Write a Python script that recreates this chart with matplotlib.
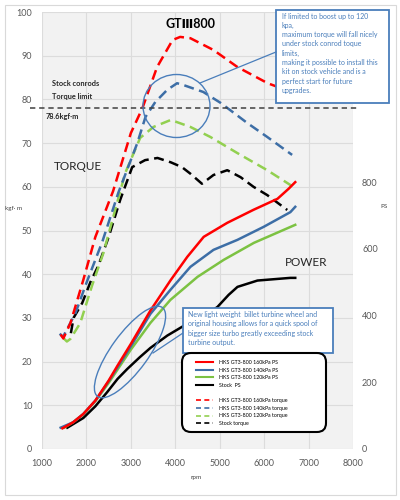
import matplotlib
matplotlib.use('Agg')
import matplotlib.pyplot as plt
from matplotlib.lines import Line2D
from matplotlib.patches import Ellipse, FancyBboxPatch, Rectangle

plt.rcParams['font.family'] = ['Lato', 'DejaVu Sans']

# ---------------- data ----------------
# torque (kgf·m) vs rpm
red_tq_rpm = [1420, 1480, 1640, 1930, 2200, 2600, 3000, 3260, 3590, 3940, 4110, 4340, 4860, 5400, 6080, 6400, 6700]
red_tq = [26.2, 25.3, 28.8, 38.7, 48.5, 59.0, 72.3, 78.0, 87.4, 93.6, 94.3, 94.0, 91.3, 87.4, 83.7, 82.5, 81.0]

blue_tq_rpm = [1400, 1470, 1750, 2000, 2360, 2720, 3145, 3330, 3550, 3820, 4040, 4180, 4630, 5020, 5620, 6070, 6630]
blue_tq = [26.4, 25.6, 31.0, 38.0, 47.5, 58.7, 70.0, 76.0, 79.4, 82.2, 83.7, 83.3, 81.7, 79.2, 74.6, 71.4, 67.3]

green_tq_rpm = [1480, 1560, 1640, 1860, 2130, 2380, 2690, 2875, 3210, 3510, 3900, 4340, 4790, 5400, 6070, 6700]
green_tq = [25.4, 24.6, 25.2, 28.8, 37.5, 44.8, 56.3, 63.2, 71.2, 73.7, 75.3, 73.7, 71.4, 67.7, 63.8, 59.7]

stock_tq_rpm = [1650, 1710, 1905, 2090, 2270, 2500, 2760, 3030, 3320, 3600, 3900, 4150, 4340, 4600, 4860, 5170, 5470, 5760, 6070, 6520]
stock_tq = [26.5, 30.0, 33.4, 38.2, 42.0, 48.5, 57.0, 64.5, 66.1, 66.6, 65.6, 64.5, 63.0, 60.7, 62.7, 63.8, 62.2, 60.0, 58.1, 54.7]

# power (PS) vs rpm
red_ps_rpm = [1460, 1700, 1930, 2200, 2500, 2700, 3000, 3440, 3890, 4270, 4640, 5170, 5760, 6300, 6550, 6700]
red_ps = [62, 80, 105, 145, 205, 250, 315, 415, 505, 576, 636, 678, 717, 750, 780, 800]

blue_ps_rpm = [1420, 1700, 1930, 2200, 2500, 2700, 3000, 3440, 3890, 4340, 4860, 5400, 5990, 6590, 6700]
blue_ps = [64, 80, 105, 145, 203, 245, 308, 405, 477, 546, 597, 627, 666, 710, 726]

green_ps_rpm = [1500, 1700, 1930, 2200, 2500, 2700, 3000, 3440, 3890, 4500, 5090, 5770, 6700]
green_ps = [64, 80, 104, 143, 198, 238, 298, 378, 447, 516, 567, 618, 672]

stock_ps_rpm = [1570, 1930, 2200, 2470, 2700, 2920, 3200, 3440, 3820, 4200, 4640, 4950, 5200, 5400, 5850, 6590, 6700]
stock_ps = [64, 93, 128, 171, 210, 240, 275, 303, 340, 370, 396, 426, 462, 486, 505, 513, 513]

torque_limit = 78.1
torque_limit_label = "78.6kgf·m"

x_ticks = [1000, 2000, 3000, 4000, 5000, 6000, 7000, 8000]
left_ticks = [0, 10, 20, 30, 40, 50, 60, 70, 80, 90, 100]
right_ticks = [0, 200, 400, 600, 800]

legend_labels = ["HKS GT3-800 160kPa PS", "HKS GT3-800 140kPa PS", "HKS GT3-800 120kPa PS", "Stock  PS", " ",
                 "HKS GT3-800 160kPa torque", "HKS GT3-800 140kPa torque", "HKS GT3-800 120kPa torque", "Stock torque"]

# ---------------- style ----------------
RED = '#ff0000'
BLUE = '#3d6ea6'
GREEN_TQ = '#92d050'
GREEN_PS = '#7cc242'
BLACK = '#000000'
ANN = '#4a7ebb'
W, H = 400, 500

fig = plt.figure(figsize=(4, 5), dpi=100)
fig.patch.set_facecolor('white')

def P(x, y):
    return (x / W, 1 - y / H)

def I(x, y):
    return (x / 100.0, (H - y) / 100.0)

# outer frame
fig.add_artist(Rectangle(I(5, 495), 3.91, 4.90, transform=fig.dpi_scale_trans,
                         facecolor='none', edgecolor='#d9d9d9', lw=0.8, zorder=0.5))

ax = fig.add_axes([42 / W, 1 - 449 / H, (353 - 42) / W, (449 - 12) / H])
ax.set_facecolor('#f2f2f2')
ax.set_xlim(1000, 8000)
ax.set_ylim(0, 100)
ax.set_xticks(x_ticks)
ax.set_yticks(left_ticks)
ax.grid(True, color='#dcdcdc', lw=0.8)
ax.set_axisbelow(True)
for s in ax.spines.values():
    s.set_visible(False)
ax.tick_params(axis='both', length=0, labelsize=6.5, labelcolor='#595959')
ax.tick_params(axis='y', pad=7)
ax.tick_params(axis='x', pad=7)

ax2 = ax.twinx()
ax2.set_ylim(0, 1310)
ax2.set_yticks(right_ticks)
for s in ax2.spines.values():
    s.set_visible(False)
ax2.tick_params(axis='y', length=0, labelsize=6.5, labelcolor='#595959', pad=6.5)

dash = (0, (4, 2.2))
lw = 1.8
ax.plot(stock_tq_rpm, stock_tq, color=BLACK, lw=lw, ls=dash)
ax.plot(green_tq_rpm, green_tq, color=GREEN_TQ, lw=lw, ls=dash)
ax.plot(blue_tq_rpm, blue_tq, color=BLUE, lw=lw, ls=dash)
ax.plot(red_tq_rpm, red_tq, color=RED, lw=lw, ls=dash)

ax2.plot(stock_ps_rpm, stock_ps, color=BLACK, lw=lw)
ax2.plot(green_ps_rpm, green_ps, color=GREEN_PS, lw=lw)
ax2.plot(blue_ps_rpm, blue_ps, color=BLUE, lw=lw)
ax2.plot(red_ps_rpm, red_ps, color=RED, lw=lw)

# torque limit line (spans beyond the plot area on both sides)
ax.plot([735, 8160], [torque_limit, torque_limit], color='#404040', lw=1.1,
        ls=(0, (3.5, 2.5)), clip_on=False)

# ---------------- texts ----------------
fig.text(*P(190, 24), "GTⅢ800", ha='center', va='center', fontsize=9, fontweight='bold')
fig.text(*P(52, 84), "Stock conrods", ha='left', va='center', fontsize=5.3, fontweight='bold', color='#262626')
fig.text(*P(52, 97), "Torque limit", ha='left', va='center', fontsize=5.3, fontweight='bold', color='#262626')
fig.text(*P(46, 117), torque_limit_label, ha='left', va='center', fontsize=5.3, fontweight='bold', color='#262626')
fig.text(*P(78, 166), "TORQUE", ha='center', va='center', fontsize=8.5, color='#262626')
fig.text(*P(306, 263), "POWER", ha='center', va='center', fontsize=8.5, color='#262626')
fig.text(*P(14, 209), "kgf· m", ha='center', va='center', fontsize=4.5, color='#404040')
fig.text(*P(384, 207), "PS", ha='center', va='center', fontsize=4.5, color='#404040')
fig.text(*P(196, 477), "rpm", ha='center', va='center', fontsize=4.5, color='#404040')

# top right annotation
fig.add_artist(Rectangle(I(276, 103), 1.13, 0.93, transform=fig.dpi_scale_trans,
                         facecolor='white', edgecolor=ANN, lw=1.3, zorder=2))
fig.text(*P(282, 12.5), "If limited to boost up to 120\nkpa,\nmaximum torque will fall nicely\n"
         "under stock conrod toque\nlimits,\nmaking it possible to install this\n"
         "kit on stock vehicle and is a\nperfect start for future\nupgrades.",
         ha='left', va='top', fontsize=5.0, color=ANN, linespacing=1.38, zorder=3)
fig.add_artist(Ellipse(I(176.5, 106), 0.67, 0.63, transform=fig.dpi_scale_trans,
                       facecolor='none', edgecolor=ANN, lw=1.0, zorder=2))
fig.add_artist(Line2D([2.00, 2.76], [(H - 83) / 100, (H - 52) / 100], transform=fig.dpi_scale_trans,
                      color=ANN, lw=0.9, zorder=2))

# lower annotation
fig.add_artist(Ellipse(I(130, 352), 1.10, 0.37, angle=54, transform=fig.dpi_scale_trans,
                       facecolor='none', edgecolor=ANN, lw=1.0, zorder=2))
fig.add_artist(Line2D([1.53, 1.83], [(H - 353) / 100, (H - 333) / 100], transform=fig.dpi_scale_trans,
                      color=ANN, lw=0.9, zorder=2))
fig.add_artist(Rectangle(I(183, 353), 1.50, 0.45, transform=fig.dpi_scale_trans,
                         facecolor='white', edgecolor=ANN, lw=1.3, zorder=2))
fig.text(*P(188, 311), "New light weight  billet turbine wheel and\noriginal housing allows for a quick spool of\n"
         "bigger size turbo greatly exceeding stock\nturbine output.",
         ha='left', va='top', fontsize=5.0, color=ANN, linespacing=1.38, zorder=3)

# legend
fig.add_artist(FancyBboxPatch(I(182, 432), 1.44, 0.79, boxstyle="round,pad=0,rounding_size=0.09",
                              transform=fig.dpi_scale_trans, facecolor='white', edgecolor='black',
                              lw=1.5, zorder=2))
handles = [Line2D([], [], color=RED, lw=1.5), Line2D([], [], color=BLUE, lw=1.5),
           Line2D([], [], color=GREEN_PS, lw=1.5), Line2D([], [], color=BLACK, lw=1.5),
           Line2D([], [], color='none'),
           Line2D([], [], color=RED, lw=1.2, ls=(0, (3, 2))), Line2D([], [], color=BLUE, lw=1.2, ls=(0, (3, 2))),
           Line2D([], [], color=GREEN_TQ, lw=1.2, ls=(0, (3, 2))), Line2D([], [], color=BLACK, lw=1.2, ls=(0, (3, 2)))]
leg = fig.legend(handles, legend_labels, loc='upper left', bbox_to_anchor=P(196, 360), frameon=False,
                 fontsize=3.8, handlelength=3.3, handletextpad=1.0, labelspacing=0.5, borderpad=0,
                 borderaxespad=0)
leg.set_zorder(3)

fig.savefig('out.png', dpi=100, facecolor='white')
